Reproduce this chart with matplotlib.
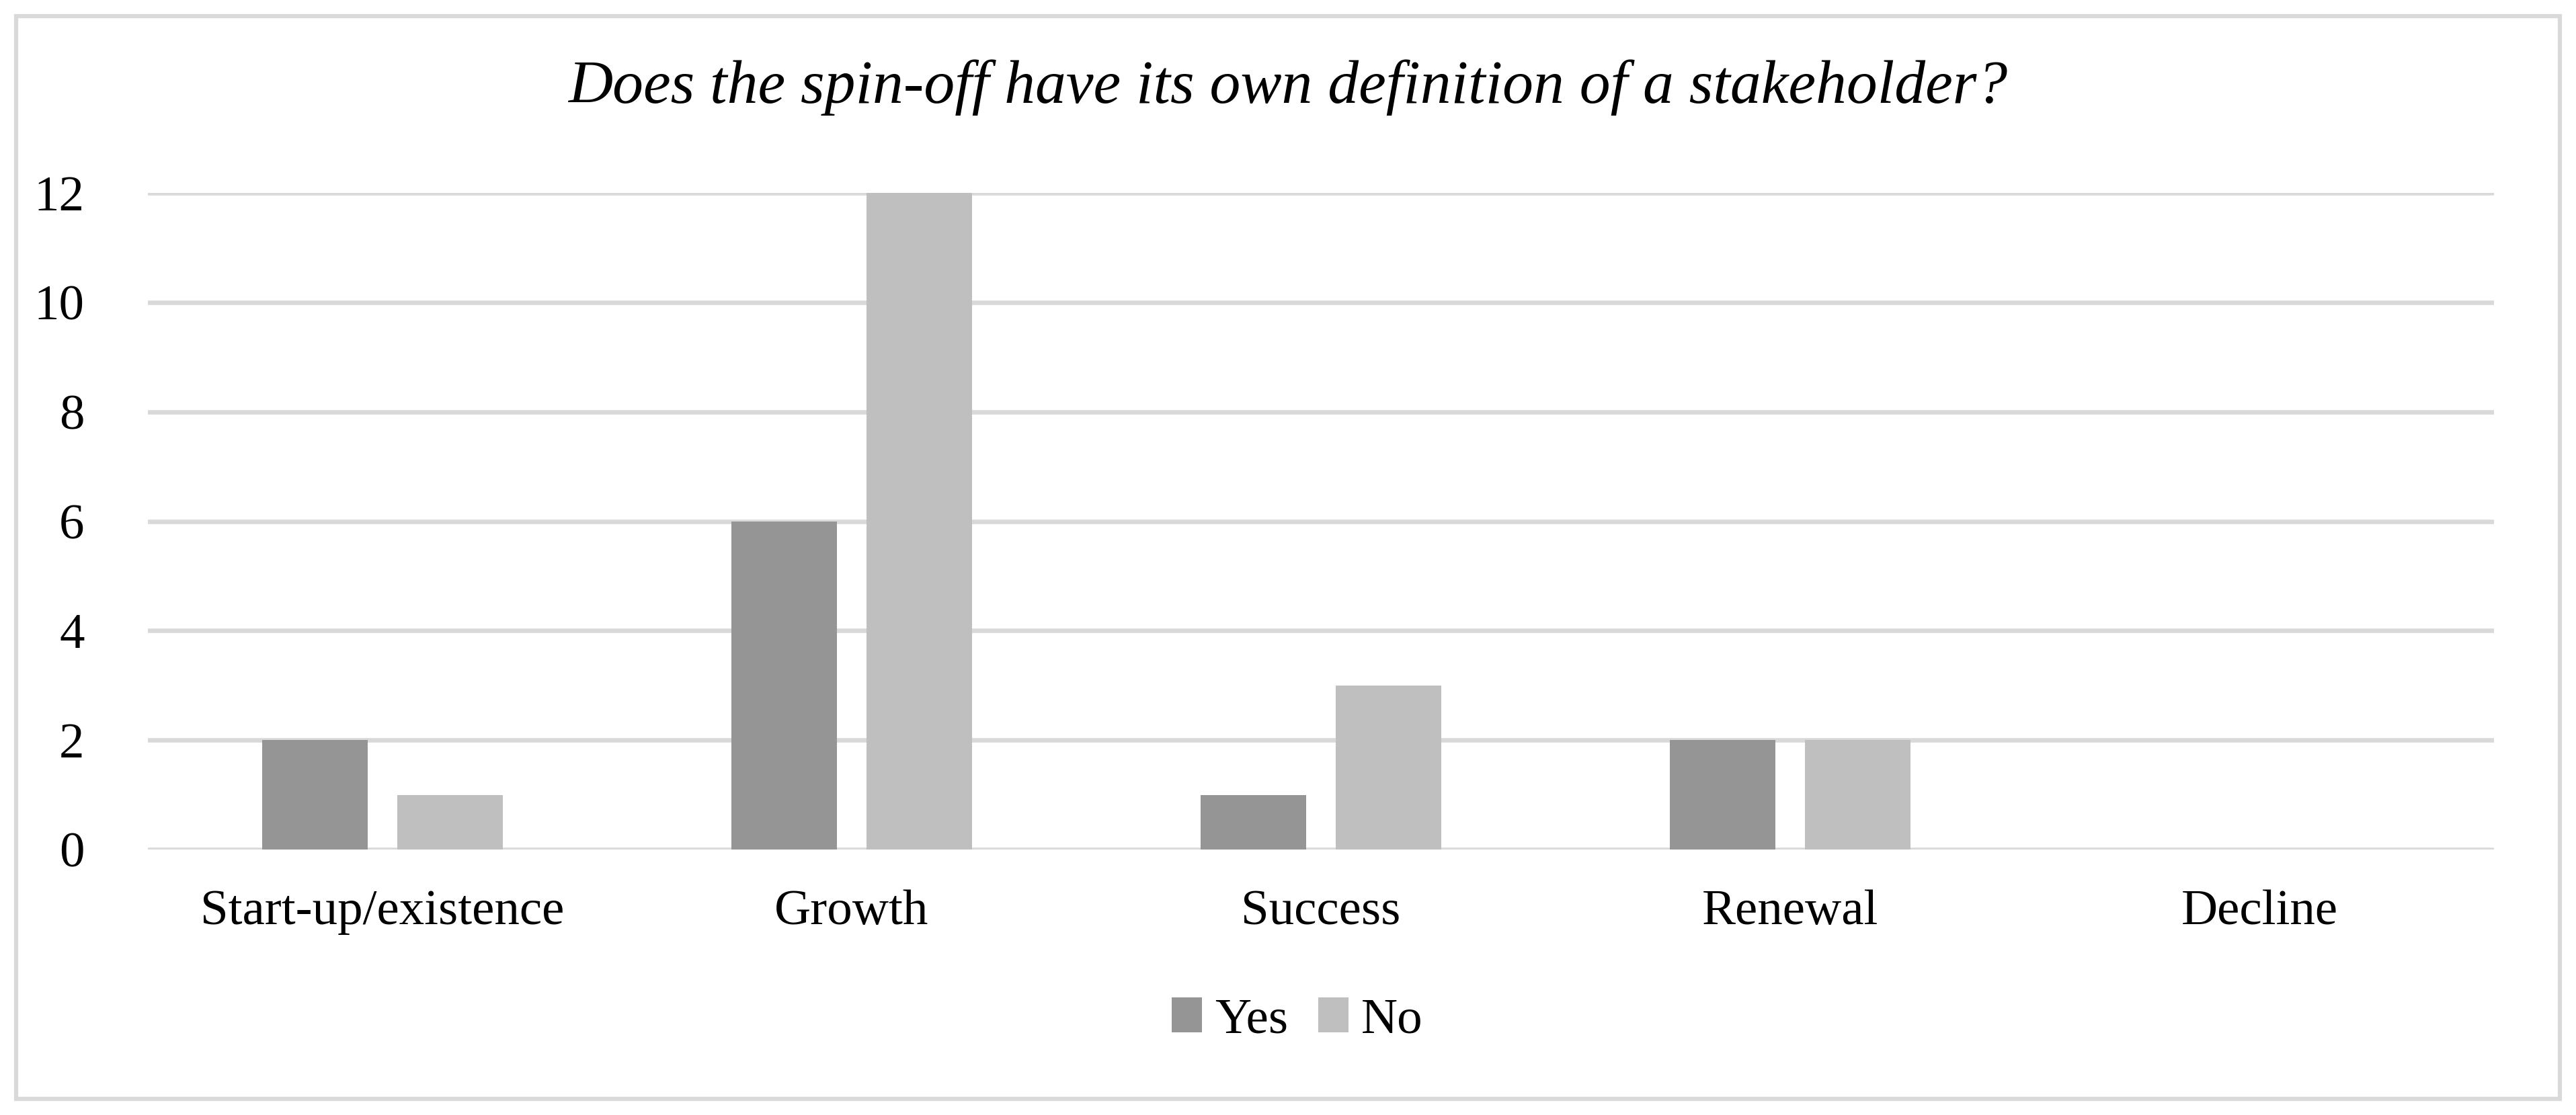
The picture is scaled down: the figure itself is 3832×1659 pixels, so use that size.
import numpy as np
import matplotlib
matplotlib.use("Agg")
import matplotlib.pyplot as plt
from matplotlib.patches import Rectangle

# data
stages = ["Start-up/existence", "Growth", "Success", "Renewal", "Decline"]
yes_counts = [2, 6, 1, 2, 0]
no_counts = [1, 12, 3, 2, 0]
y_ticks = [0, 2, 4, 6, 8, 10, 12]

plt.rcParams['font.family'] = ['Liberation Serif', 'DejaVu Serif']

W, H = 3832, 1659
fig = plt.figure(figsize=(W / 100, H / 100), dpi=100)
ax = fig.add_axes([220 / W, 1 - 1264 / H, (3710 - 220) / W, (1264 - 287) / H])

x = np.arange(len(stages))
bw = 0.224
off = 0.144
ax.bar(x - off, yes_counts, bw, color='#959595', label='Yes', zorder=3)
ax.bar(x + off, no_counts, bw, color='#bfbfbf', label='No', zorder=3)

ax.set_xlim(-0.5, len(stages) - 0.5)
ax.set_ylim(0, 12)
ax.set_yticks(y_ticks)
ax.set_xticks(x)
ax.set_xticklabels(stages)
ax.tick_params(axis='both', length=0, labelsize=54, colors='black')
ax.tick_params(axis='y', pad=68)
ax.tick_params(axis='x', pad=43)
ax.yaxis.grid(True, color='#d9d9d9', linewidth=4.8, zorder=0)
ax.set_axisbelow(True)
for s in ax.spines.values():
    s.set_visible(False)

fig.text(0.5, 1 - 130 / H, "Does the spin-off have its own definition of a stakeholder?",
         ha='center', va='center', fontsize=66, style='italic')

leg = fig.legend(loc='center', bbox_to_anchor=(1930 / W, 1 - 1518 / H), ncol=2,
                 frameon=False, fontsize=54, handlelength=0.6, handleheight=0.7,
                 handletextpad=0.25, columnspacing=0.6)

# outer chart border
fig.patches.append(Rectangle((24 / W, 24 / H), (3808 - 24) / W, (1635 - 24) / H,
                             transform=fig.transFigure, fill=False,
                             edgecolor='#d9d9d9', linewidth=4.5))

fig.savefig("out.png", dpi=100)
